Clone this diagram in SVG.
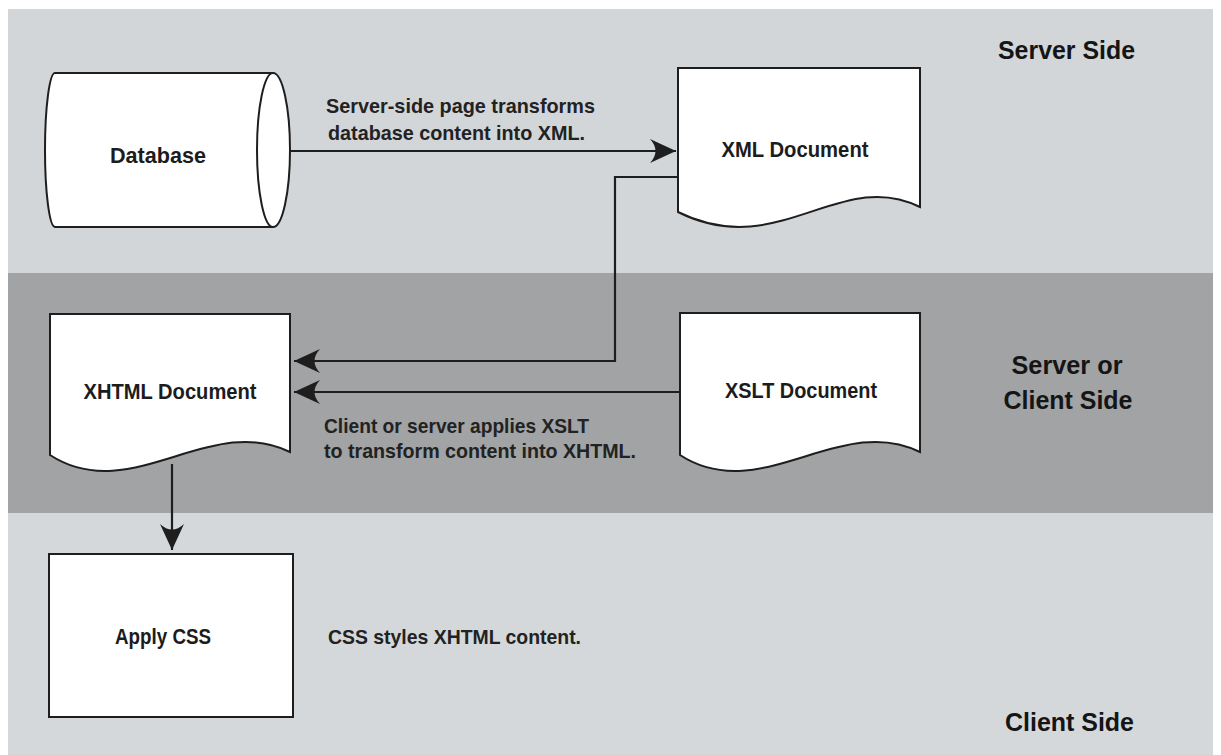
<svg xmlns="http://www.w3.org/2000/svg" width="1221" height="755" viewBox="0 0 1221 755">
  <style>
    .node { fill: #ffffff; stroke: #1e1e1e; stroke-width: 2; }
    .conn { fill: none; stroke: #1e1e1e; stroke-width: 2.2; }
    text { font-family: "Liberation Sans Narrow", "Liberation Sans", Arial, sans-serif; font-weight: bold; fill: #1c1c1c; }
    .nl { font-size: 22px; }
    .el { font-size: 21px; fill: #222222; }
    .rl { font-size: 26px; fill: #151515; }
  </style>
  <defs>
    <marker id="arrow" viewBox="-27 -13 28 26" refX="0" refY="0" markerWidth="28" markerHeight="26" markerUnits="userSpaceOnUse" orient="auto">
      <path d="M0,0 L-26,-12 Q-15,0 -26,12 Z" fill="#1e1e1e"/>
    </marker>
  </defs>

  <g id="background">
    <rect x="0" y="0" width="1221" height="755" fill="#ffffff"/>
    <rect x="8" y="9" width="1205" height="264" fill="#d3d6d8"/>
    <rect x="8" y="273" width="1205" height="240" fill="#a1a3a4"/>
    <rect x="8" y="513" width="1205" height="242" fill="#d5d8da"/>
  </g>

  <g id="connectors">
    <path class="conn" d="M290,151 L676,151" marker-end="url(#arrow)"/>
    <path class="conn" d="M678,177 L615,177 L615,361 L294,361" marker-end="url(#arrow)"/>
    <path class="conn" d="M680,392 L294,392" marker-end="url(#arrow)"/>
    <path class="conn" d="M172,464 L172,550" marker-end="url(#arrow)"/>
  </g>

  <g id="database">
    <path class="node" d="M55,73 L273,73 A17,77 0 0 1 273,227 L55,227 A10,77 0 0 1 55,73 Z"/>
    <path class="node" fill="none" d="M273,73 A16,77 0 0 0 273,227"/>
    <text class="nl" x="158" y="163" text-anchor="middle" textLength="96" lengthAdjust="spacingAndGlyphs">Database</text>
  </g>

  <g id="xml-document">
    <path class="node" d="M678,68 L920,68 L920,207 C840,167 778,262 678,212 Z"/>
    <text class="nl" x="795" y="157" text-anchor="middle" textLength="147" lengthAdjust="spacingAndGlyphs">XML Document</text>
  </g>

  <g id="xhtml-document">
    <path class="node" d="M50,314 L290,314 L290,452 C210,412 130,507 50,455 Z"/>
    <text class="nl" x="170" y="399" text-anchor="middle" textLength="173" lengthAdjust="spacingAndGlyphs">XHTML Document</text>
  </g>

  <g id="xslt-document">
    <path class="node" d="M680,313 L920,313 L920,452 C840,412 760,507 680,455 Z"/>
    <text class="nl" x="801" y="398" text-anchor="middle" textLength="152" lengthAdjust="spacingAndGlyphs">XSLT Document</text>
  </g>

  <g id="apply-css">
    <rect class="node" x="49" y="554" width="244" height="163"/>
    <text class="nl" x="163" y="644" text-anchor="middle" textLength="96" lengthAdjust="spacingAndGlyphs">Apply CSS</text>
  </g>

  <g id="edge-labels">
    <text class="el" x="326" y="113" textLength="269" lengthAdjust="spacingAndGlyphs">Server-side page transforms</text>
    <text class="el" x="328" y="140" textLength="257" lengthAdjust="spacingAndGlyphs">database content into XML.</text>
    <text class="el" x="324" y="433" textLength="265" lengthAdjust="spacingAndGlyphs">Client or server applies XSLT</text>
    <text class="el" x="324" y="458" textLength="312" lengthAdjust="spacingAndGlyphs">to transform content into XHTML.</text>
    <text class="el" x="328" y="644" textLength="253" lengthAdjust="spacingAndGlyphs">CSS styles XHTML content.</text>
  </g>

  <g id="region-labels">
    <text class="rl" x="998" y="59" textLength="137" lengthAdjust="spacingAndGlyphs">Server Side</text>
    <text class="rl" x="1067" y="374" text-anchor="middle" textLength="111" lengthAdjust="spacingAndGlyphs">Server or</text>
    <text class="rl" x="1068" y="409" text-anchor="middle" textLength="129" lengthAdjust="spacingAndGlyphs">Client Side</text>
    <text class="rl" x="1005" y="731" textLength="129" lengthAdjust="spacingAndGlyphs">Client Side</text>
  </g>
</svg>
